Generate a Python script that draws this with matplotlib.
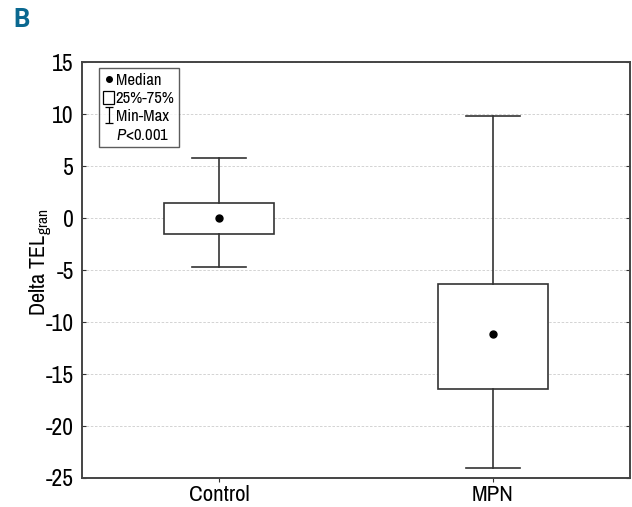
import matplotlib
matplotlib.use("Agg")
import matplotlib.pyplot as plt
from matplotlib import font_manager
from matplotlib.lines import Line2D
from matplotlib.patches import Patch
from matplotlib.path import Path

names = set(f.name for f in font_manager.fontManager.ttflist)
fam = 'Archivo Narrow' if 'Archivo Narrow' in names else 'DejaVu Sans'
plt.rcParams['font.family'] = [fam, 'DejaVu Sans']
plt.rcParams['mathtext.fontset'] = 'custom'
plt.rcParams['mathtext.rm'] = fam
plt.rcParams['mathtext.it'] = fam + ':italic'

# values
groups = ['Control', 'MPN']
med = [0.0, -11.15]
q1 = [-1.5, -16.4]
q3 = [1.4, -6.35]
lo = [-4.7, -24.0]
hi = [5.8, 9.8]

yticks = [15, 10, 5, 0, -5, -10, -15, -20, -25]

fig = plt.figure(figsize=(6.32, 5.07), dpi=100)
ax = fig.add_axes([0.1297, 0.0572, 0.867, 0.8205])

stats = []
for i in range(len(groups)):
    stats.append(dict(med=med[i], q1=q1[i], q3=q3[i], whislo=lo[i], whishi=hi[i],
                      label=groups[i]))

lc = '#333333'
ax.bxp(stats, positions=[1, 2], widths=0.4, showfliers=False, patch_artist=True,
       boxprops=dict(facecolor='white', edgecolor=lc, linewidth=1.2),
       whiskerprops=dict(color=lc, linewidth=1.2),
       capprops=dict(color=lc, linewidth=1.2),
       medianprops=dict(linewidth=0), capwidths=0.2, zorder=3)
ax.plot([1, 2], med, 'o', color='black', markersize=5, zorder=4)

ax.set_xlim(0.5, 2.5)
ax.set_ylim(-25, 15)
ax.set_yticks(yticks)
ax.set_yticklabels([str(v) for v in yticks])
ax.grid(axis='y', color='#cccccc', linestyle=(0, (3, 2)), linewidth=0.6)
ax.set_axisbelow(True)
ax.tick_params(axis='y', direction='in', length=3, pad=6, labelsize=17,
               right=True, color=lc)
ax.tick_params(axis='x', direction='out', length=3, pad=2, labelsize=16.5, color=lc)
for s in ax.spines.values():
    s.set_color('#444444')
    s.set_linewidth(1.4)

ax.set_ylabel('Delta TEL$_{\\mathrm{gran}}$', fontsize=16)
ax.yaxis.set_label_coords(-0.051, 0.52)

# legend
imarker = Path([(-0.5, 1), (0.5, 1), (0, 1), (0, -1), (-0.5, -1), (0.5, -1)],
               [Path.MOVETO, Path.LINETO, Path.MOVETO, Path.LINETO, Path.MOVETO, Path.LINETO])
handles = [
    Line2D([], [], marker='o', color='black', linestyle='none', markersize=4),
    Patch(facecolor='white', edgecolor='black', linewidth=0.9),
    Line2D([], [], marker=imarker, color='black', linestyle='none', markersize=11,
           markeredgewidth=0.9),
    Line2D([], [], linestyle='none'),
]
labels = ['Median', '25%-75%', 'Min-Max', '$P$<0.001']
leg = ax.legend(handles, labels, loc='upper left', bbox_to_anchor=(0.031, 0.985),
                fontsize=12, frameon=True, fancybox=False, edgecolor='#333333',
                handlelength=0.65, handleheight=0.9, handletextpad=0.1,
                labelspacing=0.15, borderpad=0.25, borderaxespad=0.0)
leg.get_frame().set_linewidth(1.0)

fig.text(0.021, 1 - 27 / 507, 'B', fontsize=18.5, fontweight='bold', color='#0a6890',
         family=['Roboto', 'DejaVu Sans'], va='baseline', ha='left')

fig.savefig('out.png', dpi=100)
